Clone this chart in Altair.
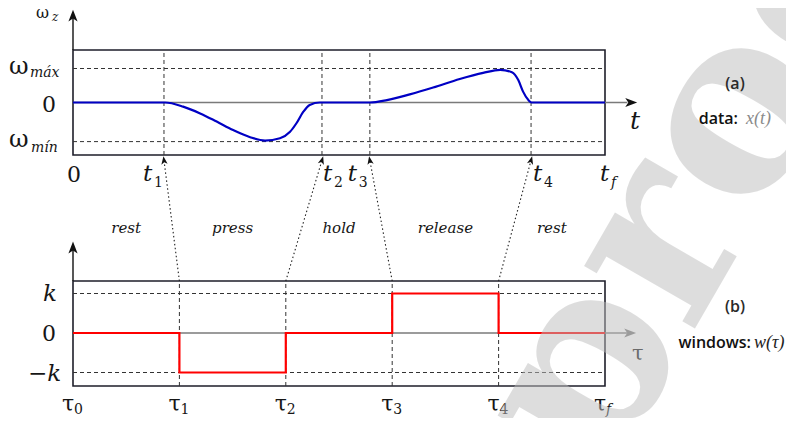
import math
import altair as alt
import pandas as pd

# ---------------- data ----------------
T_TICKS = [0.0, 1.71, 4.68, 5.58, 8.61, 10.0]          # 0, t1..t4, tf
T_SUBS = ["", "1", "2", "3", "4", "f"]
TAU_TICKS = [0, 2, 4, 6, 8, 10]                       # tau0..tau4, tauf
TAU_SUBS = ["0", "1", "2", "3", "4", "f"]
PHASES = ["rest", "press", "hold", "release", "rest"]

CURVE_T = [0, 1.0, 1.73, 2.07, 2.39, 2.70, 3.01, 3.33, 3.61, 3.89, 4.08, 4.20,
           4.33, 4.45, 4.64, 5.0, 5.58, 5.90, 6.33, 6.77, 7.27, 7.71, 8.03,
           8.25, 8.37, 8.46, 8.56, 8.62, 9.3, 10.0]
CURVE_W = [0, 0, 0, -0.12, -0.32, -0.56, -0.81, -1.02, -1.12, -1.05, -0.86, -0.61,
           -0.27, -0.07, 0, 0, 0, 0.07, 0.24, 0.44, 0.69, 0.87, 0.96,
           0.89, 0.66, 0.32, 0.07, 0, 0, 0]

WIN_TAU = [0, 2, 4, 6, 8, 10]
WIN_W = [0, -1, 0, 1, 0, 0]

OMEGA_MAX, OMEGA_MIN = 1.0, -1.15
K = 1.0
TOP_BOX = (-1.544, 1.544)
BOT_BOX = (-1.342, 1.316)
WATERMARK = "proof"

# -------------- layout ---------------
W, H = 778, 410
PXX = 53.2
X_LEFT_PX = 65
XS = alt.Scale(domain=[-X_LEFT_PX / PXX, (W - X_LEFT_PX) / PXX], nice=False, zero=False)
YS = alt.Scale(domain=[0, H], nice=False, zero=False)
TOP0, TOPU = 315.5, 34.0
BOT0, BOTU = 85.0, 39.5


def yt(v):
    return TOP0 + TOPU * v


def yb(v):
    return BOT0 + BOTU * v


def enc(ch):
    return ch.encode(x=alt.X("x:Q", scale=XS, axis=None),
                     y=alt.Y("y:Q", scale=YS, axis=None))


def rules(rows, **kw):
    df = pd.DataFrame(rows, columns=["x", "x2", "y", "y2"])
    return alt.Chart(df).mark_rule(**kw).encode(
        x=alt.X("x:Q", scale=XS, axis=None), x2="x2:Q",
        y=alt.Y("y:Q", scale=YS, axis=None), y2="y2:Q")


def pos(ax, ay, dx, dy):
    return ax + dx / PXX, ay - dy


def texts(rows, **kw):
    df = pd.DataFrame(rows, columns=["x", "y", "text"])
    return alt.Chart(df).mark_text(**kw).encode(
        x=alt.X("x:Q", scale=XS, axis=None),
        y=alt.Y("y:Q", scale=YS, axis=None), text="text:N")


SERIF = "DejaVu Serif"
SERIF2 = "Liberation Serif"
SANS = "Open Sans"
INK = "#161616"

# boxes
boxes = pd.DataFrame({
    "x": [0, 0], "x2": [10, 10],
    "y": [yt(TOP_BOX[0]), yb(BOT_BOX[0])],
    "y2": [yt(TOP_BOX[1]), yb(BOT_BOX[1])],
})
box_layer = alt.Chart(boxes).mark_rect(fillOpacity=0, stroke="#1e1e2a", strokeWidth=1.6).encode(
    x=alt.X("x:Q", scale=XS, axis=None), x2="x2:Q",
    y=alt.Y("y:Q", scale=YS, axis=None), y2="y2:Q")

# dashed guides
dash_rows = [(0, 10, yt(OMEGA_MAX), yt(OMEGA_MAX)), (0, 10, yt(OMEGA_MIN), yt(OMEGA_MIN)),
             (0, 10, yb(K), yb(K)), (0, 10, yb(-K), yb(-K))]
dash_rows += [(t, t, yt(TOP_BOX[0]), yt(TOP_BOX[1])) for t in T_TICKS[1:5]]
dash_rows += [(s, s, yb(BOT_BOX[0]), yb(BOT_BOX[1])) for s in TAU_TICKS[1:5]]
dash_layer = rules(dash_rows, color="#333333", strokeWidth=1, strokeDash=[4, 3])

# zero axes (gray) and vertical axes (black)
zero_layer = rules([(0, 10.42, yt(0), yt(0)), (0, 10.42, yb(0), yb(0))],
                   color="#7a7a7a", strokeWidth=1.4)
yaxis_layer = rules([(0, 0, yt(TOP_BOX[1]), yt(2.6)), (0, 0, yb(BOT_BOX[1]), yb(2.2))],
                    color="#111111", strokeWidth=1.4)

# dotted connectors tau_i -> t_i
CONN_TOP = yt(-1.70)
conn_rows = [(TAU_TICKS[i], T_TICKS[i], yb(BOT_BOX[1]), CONN_TOP) for i in range(1, 5)]
conn_layer = rules(conn_rows, color="#222222", strokeWidth=1.1, strokeDash=[1.5, 2.5])

ARROW = "M0,-1L0.75,0.95L0,0.45L-0.75,0.95Z"


def arrows(rows, color, size):
    df = pd.DataFrame(rows, columns=["x", "y", "angle"])
    return alt.Chart(df).mark_point(shape=ARROW, filled=True, size=size, color=color,
                                    opacity=1, strokeWidth=0).encode(
        x=alt.X("x:Q", scale=XS, axis=None), y=alt.Y("y:Q", scale=YS, axis=None),
        angle=alt.Angle("angle:Q", scale=None))


conn_arrow_rows = []
for i in range(1, 5):
    dxp = (T_TICKS[i] - TAU_TICKS[i]) * PXX
    dyp = CONN_TOP - yb(BOT_BOX[1])
    ang = math.degrees(math.atan2(dxp, dyp)) % 360
    conn_arrow_rows.append((T_TICKS[i], CONN_TOP, ang))
arrow_layers = [
    arrows(conn_arrow_rows, "#111111", 70),
    arrows([(10.49, yt(0), 90), (0, yt(2.55), 0), (0, yb(2.16), 0)], "#111111", 150),
    arrows([(10.47, yb(0), 90)], "#7a7a7a", 150),
]

# signals
curve = enc(alt.Chart(pd.DataFrame({"x": CURVE_T, "y": [yt(v) for v in CURVE_W]}))
            .mark_line(color="#0000c4", strokeWidth=2.2, interpolate="monotone"))
window = enc(alt.Chart(pd.DataFrame({"x": WIN_TAU, "y": [yb(v) for v in WIN_W]}))
             .mark_line(color="#ff0000", strokeWidth=2.2, interpolate="step-after"))

# ---------------- labels ----------------
BIG, SUB = 22, 14
up_big, it_big, up_sub, it_sub, omegas = [], [], [], [], []

# top x labels
ay = yt(TOP_BOX[0])
up_big.append((*pos(T_TICKS[0], ay, -6, 27), "0"))
t_off = [None, -21, 1, -22, 2, -5]
for i in range(1, 6):
    mdx = t_off[i]
    it_big.append((*pos(T_TICKS[i], ay, mdx, 26), "t"))
    row = (*pos(T_TICKS[i], ay, mdx + 11, 32), T_SUBS[i])
    (it_sub if T_SUBS[i] == "f" else up_sub).append(row)

# bottom tau labels
ay = yb(BOT_BOX[0])
for i in range(6):
    up_big.append((*pos(TAU_TICKS[i], ay, -11, 25), "τ"))
    row = (*pos(TAU_TICKS[i], ay, 1, 28), TAU_SUBS[i])
    (it_sub if TAU_SUBS[i] == "f" else up_sub).append(row)

# top y labels
omegas.append((*pos(0, yt(OMEGA_MAX), -64, 5), "ω"))
it_sub.append((*pos(0, yt(OMEGA_MAX), -43, 8), "máx"))
up_big.append((*pos(0, yt(0), -31, 9), "0"))
omegas.append((*pos(0, yt(OMEGA_MIN), -64, 5), "ω"))
it_sub.append((*pos(0, yt(OMEGA_MIN), -42, 10), "mín"))
wz_main = [(*pos(0, yt(2.72), -37, 8), "ω")]
wz_sub = [(*pos(0, yt(2.72), -21, 11), "z")]

# bottom y labels
it_big.append((*pos(0, yb(K), -30, 7), "k"))
up_big.append((*pos(0, yb(0), -31, 8), "0"))
it_big.append((*pos(0, yb(-K), -45, 8), "−k"))

# axis names
axis_t = [(*pos(10, yt(0), 25, 26), "t")]
axis_tau = [(*pos(10, yb(0), 27, 27), "τ")]

# phase names
phase_rows = [((TAU_TICKS[i] + TAU_TICKS[i + 1]) / 2, yb(BOT_BOX[1]) + 48, PHASES[i])
              for i in range(5)]

# panel captions
cap_center = [(*pos(10, yt(0), 130, -14), "(a)"), (*pos(10, yb(0), 130, -21), "(b)")]
cap_right = [(*pos(10, yt(0), 133, 21), "data:"), (*pos(10, yb(0), 146, 15), "windows:")]
cap_gray = [(*pos(10, yt(0), 141, 21), "x(t)")]
cap_dark = [(*pos(10, yb(0), 149, 15), "w(τ)")]

text_layers = [
    texts(up_big, font=SERIF, fontSize=BIG, align="left", baseline="alphabetic", color=INK),
    texts(it_big, font=SERIF, fontSize=23, fontStyle="italic", align="left", baseline="alphabetic", color=INK),
    texts(up_sub, font=SERIF, fontSize=SUB, align="left", baseline="alphabetic", color=INK),
    texts(it_sub, font=SERIF, fontSize=SUB, fontStyle="italic", align="left", baseline="alphabetic", color=INK),
    texts(omegas, font=SERIF, fontSize=24, align="left", baseline="alphabetic", color=INK),
    texts(wz_main, font=SERIF, fontSize=16, align="left", baseline="alphabetic", color=INK),
    texts(wz_sub, font=SERIF, fontSize=12, fontStyle="italic", align="left", baseline="alphabetic", color=INK),
    texts(axis_t, font=SERIF, fontSize=25, fontStyle="italic", align="left", baseline="alphabetic", color=INK),
    texts(axis_tau, font=SERIF, fontSize=21, align="left", baseline="alphabetic", color=INK),
    texts(phase_rows, font=SERIF, fontSize=15, fontStyle="italic", align="center", baseline="alphabetic", color=INK),
]
caption_layers = [
    texts(cap_center, font=SANS, fontSize=16, fontWeight=600, align="center", baseline="alphabetic", color="#2a2a2a"),
    texts(cap_right, font=SANS, fontSize=16, fontWeight=600, align="right", baseline="alphabetic", color="#111111"),
    texts(cap_gray, font=SERIF2, fontSize=18, fontStyle="italic", align="left", baseline="alphabetic", color="#8a8a8a"),
    texts(cap_dark, font=SERIF2, fontSize=18, fontStyle="italic", align="left", baseline="alphabetic", color="#222222"),
]

# watermark
wm = texts([(*pos(10, yb(0), 0, 151), WATERMARK)], font=SERIF, fontSize=245, fontWeight="bold",
           align="left", baseline="alphabetic", angle=300, color="#bdbdbd", opacity=0.5)

chart = alt.layer(
    box_layer, dash_layer, zero_layer, yaxis_layer, conn_layer, curve, window,
    *arrow_layers, *text_layers, wm, *caption_layers
).properties(width=W, height=H, padding=0, autosize="none").configure_view(stroke=None)

chart.save("out.html", embed_options={"renderer": "svg", "actions": False})
